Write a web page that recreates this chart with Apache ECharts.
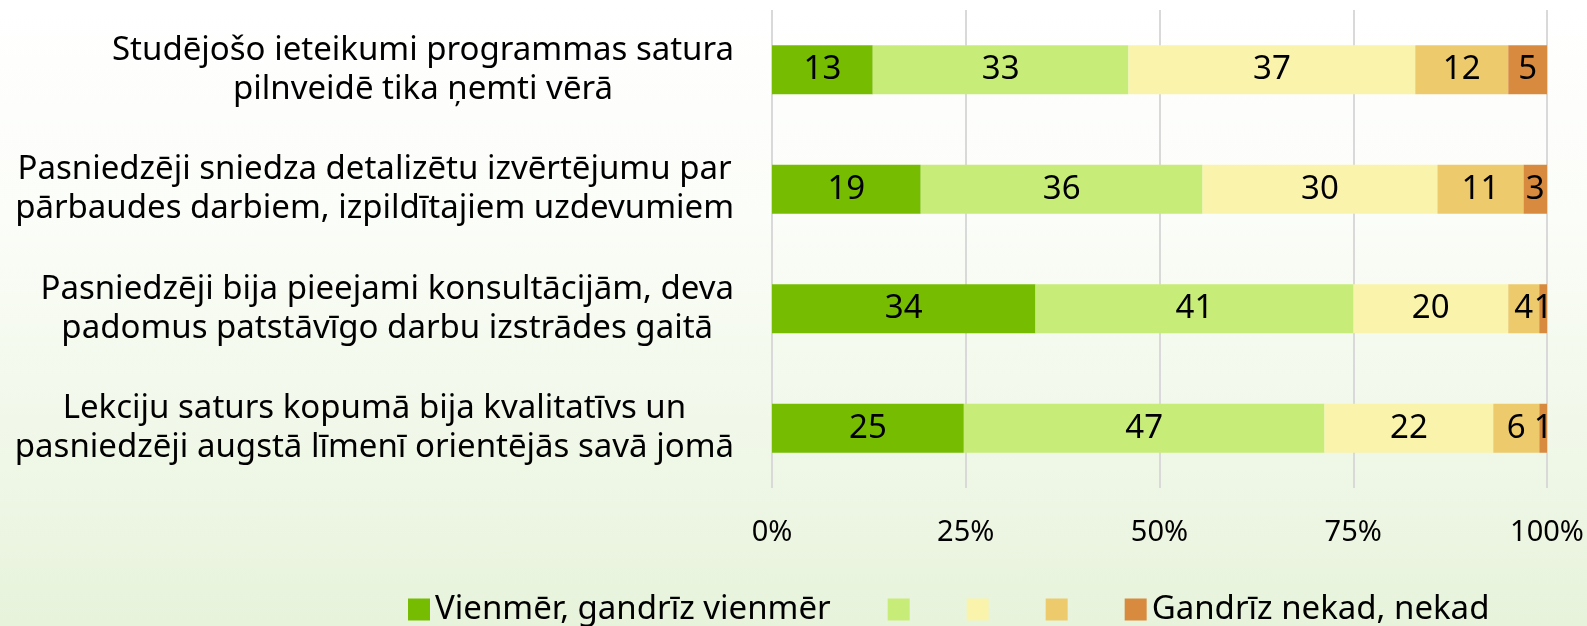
<!DOCTYPE html>
<html>
<head>
<meta charset="utf-8">
<script src="https://cdn.jsdelivr.net/npm/echarts@6/dist/echarts.min.js"></script>
<style>
  html, body { margin: 0; padding: 0; }
  body { background: linear-gradient(to bottom, #ffffff 0%, #fbfdf8 35%, #e7f3db 100%); }
  #chart { width: 1587px; height: 626px; }
</style>
</head>
<body>
<div id="chart"></div>
<script>
// categories, top to bottom
const categories = [
  'Studējošo ieteikumi programmas satura\npilnveidē tika ņemti vērā',
  'Pasniedzēji sniedza detalizētu izvērtējumu par\npārbaudes darbiem, izpildītajiem uzdevumiem',
  'Pasniedzēji bija pieejami konsultācijām, deva\npadomus patstāvīgo darbu izstrādes gaitā',
  'Lekciju saturs kopumā bija kvalitatīvs un\npasniedzēji augstā līmenī orientējās savā jomā'
]
const seriesNames = ['Vienmēr, gandrīz vienmēr', ' ', '  ', '   ', 'Gandrīz nekad, nekad']
const always = [13, 19, 34, 25]
const mostly = [33, 36, 41, 47]
const sometimes = [37, 30, 20, 22]
const rarely = [12, 11, 4, 6]
const never = [5, 3, 1, 1]
const tickLabels = ['0%', '25%', '50%', '75%', '100%']
const colors = ['#76bc00', '#c8ec78', '#f9f3ab', '#edcb6c', '#d88b3e']

const rows = [always, mostly, sometimes, rarely, never]
// each bar is shown as a share of its row total (100% stacked)
const totals = categories.map((c, i) => rows.reduce((s, r) => s + r[i], 0))

const font = 'Noto Sans'

const chart = echarts.init(document.getElementById('chart'))
chart.setOption({
  backgroundColor: 'transparent',
  color: colors,
  textStyle: { fontFamily: font, color: '#000' },
  grid: { left: 772, right: 40, top: 10, bottom: 138 },
  legend: {
    left: 403,
    top: 588,
    itemWidth: 22,
    itemHeight: 22,
    itemGap: 57,
    icon: 'rect',
    data: seriesNames,
    formatter: (name) => name.trim(),
    textStyle: { fontFamily: font, fontSize: 33, color: '#000' }
  },
  xAxis: {
    type: 'value',
    min: 0,
    max: 100,
    interval: 25,
    axisLine: { show: false },
    axisTick: { show: false },
    splitLine: { lineStyle: { color: '#d9d9d9', width: 2 } },
    axisLabel: {
      margin: 30,
      fontSize: 29,
      color: '#000',
      fontFamily: font,
      formatter: (v) => tickLabels[v / 25]
    }
  },
  yAxis: {
    type: 'category',
    inverse: true,
    data: categories,
    axisLine: { show: false },
    axisTick: { show: false },
    axisLabel: {
      margin: 38,
      align: 'right',
      lineHeight: 39,
      formatter: (v) => v.split('\n').map(s => '{c|' + s + '}').join('\n'),
      rich: {
        c: { align: 'center', fontSize: 33, lineHeight: 39, color: '#000', fontFamily: font }
      }
    }
  },
  series: rows.map((r, k) => ({
    name: seriesNames[k],
    type: 'bar',
    stack: 'total',
    barWidth: 49,
    data: r.map((v, i) => v / totals[i] * 100),
    label: {
      show: true,
      position: 'inside',
      color: '#000',
      fontSize: 33,
      fontFamily: font,
      formatter: (p) => String(r[p.dataIndex])
    },
    emphasis: { disabled: true }
  }))
})
</script>
</body>
</html>
